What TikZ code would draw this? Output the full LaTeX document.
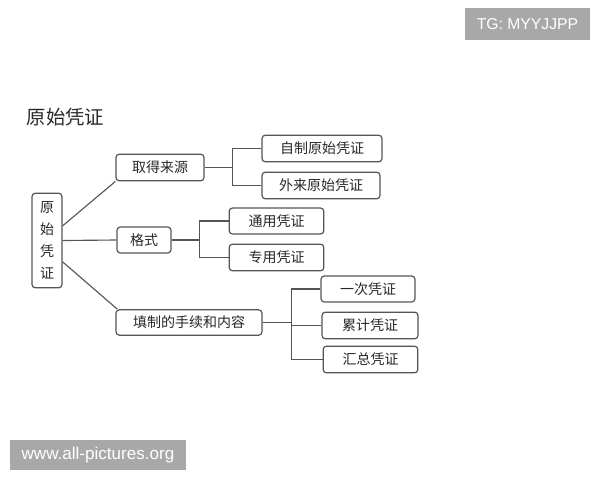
\documentclass[tikz,border=0pt]{standalone}
\usepackage{fontspec}
\setmainfont{Liberation Sans}
\newfontfamily\cjk{Noto Sans CJK SC}
\usetikzlibrary{positioning}
\definecolor{linegray}{RGB}{85,85,85}
\definecolor{textgray}{RGB}{40,40,40}
\definecolor{markgray}{RGB}{168,168,168}

\begin{document}
\begin{tikzpicture}[x=0.75pt,y=-0.75pt,
  box/.style={draw=linegray,line width=0.9pt,rounded corners=2.5pt,fill=white,text=textgray,
    font=\cjk\fontsize{10.5}{12}\selectfont,inner sep=0pt,minimum height=20pt},
  link/.style={draw=linegray,line width=0.85pt},
  wmark/.style={fill=markgray,text=white,inner sep=0pt}]
\useasboundingbox (0,0) rectangle (600,480);
% title and root
\node[anchor=west,text=textgray,font=\cjk\fontsize{14.5}{16}\selectfont] (title) at (22,117) {原始凭证};
\node[box,minimum width=22.5pt,minimum height=71pt,align=center,
  font=\cjk\fontsize{10.5}{16.5}\selectfont] (root) at (47,240.5) {原\\始\\凭\\证};
% first level
\node[box,minimum width=66pt] (source) at (160,167.5) {取得来源};
\node[box,minimum width=40.5pt,minimum height=19.5pt] (format) at (144,240) {格式};
\node[box,minimum width=109.5pt,minimum height=19pt] (filling) at (189,322.5) {填制的手续和内容};
% second level
\node[box,minimum width=90pt] (selfmade) at (322,148.5) {自制原始凭证};
\node[box,minimum width=88.5pt] (external) at (321,185.5) {外来原始凭证};
\node[box,minimum width=71pt,minimum height=19.5pt] (general) at (276.5,221) {通用凭证};
\node[box,minimum width=71pt] (special) at (276.5,257.5) {专用凭证};
\node[box,minimum width=70.5pt,minimum height=19.5pt] (once) at (368,289) {一次凭证};
\node[box,minimum width=72pt] (cumul) at (370,325.5) {累计凭证};
\node[box,minimum width=71pt] (summary) at (370.5,359.5) {汇总凭证};
% links from root
\draw[link] ([yshift=11pt]root.east) -- (source.south west);
\draw[link] (root.east) -- (format.west);
\draw[link] ([yshift=-16pt]root.east) -- ([xshift=1.5pt]filling.north west);
% forks
\draw[link] (source.east) -- ++(28,0) coordinate (forka);
\draw[link] (forka) |- (selfmade.west); \draw[link] (forka) |- (external.west);
\draw[link] (format.east) -- ++(28,0) coordinate (forkb);
\draw[link] (forkb) |- (general.west); \draw[link] (forkb) |- (special.west);
\draw[link] (filling.east) -- ++(29,0) coordinate (forkc);
\draw[link] (forkc) |- (once.west); \draw[link] (forkc) |- (cumul.west); \draw[link] (forkc) |- (summary.west);
% watermarks
\node[wmark,minimum width=93.75pt,minimum height=24pt,font=\fontsize{11.8}{13}\selectfont] (tg) at (527.5,24) {TG: MYYJJPP};
\node[wmark,minimum width=132pt,minimum height=22.5pt,font=\fontsize{12.8}{14}\selectfont] (site) at (98,455) {www.all-pictures.org};
\end{tikzpicture}
\end{document}
